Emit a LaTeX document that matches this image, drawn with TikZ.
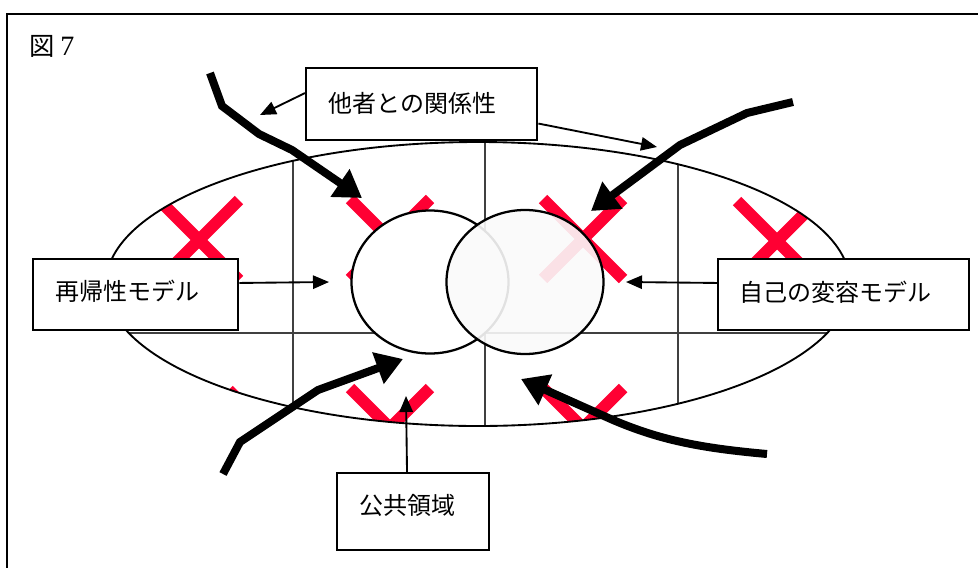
\documentclass[tikz,border=0pt]{standalone}
\usepackage{fontspec}
\newfontfamily\jp{Noto Sans CJK JP}
\newfontfamily\ser{Liberation Serif}
\usetikzlibrary{arrows.meta,calc}
\definecolor{xred}{RGB}{255,0,51}
\tikzset{
  box/.style={draw=black, line width=1.8pt, fill=white, anchor=north west,
    inner xsep=16pt, inner ysep=0pt, align=left, text height=13.6pt,
    font=\jp\fontsize{18}{20}\selectfont},
  thinarrow/.style={line width=1.4pt, -{Triangle[length=12pt,width=10pt]}},
  thickarrow/.style={line width=6pt, -{Triangle[length=20pt,width=24pt]}},
  xmark/.style={xred, line width=9pt},
  gridline/.style={black!75, line width=2pt},
}
\newcommand{\crossat}[2]{%
  \draw[xmark] (#1-40,#2-40) -- (#1+40,#2+40);
  \draw[xmark] (#1-40,#2+40) -- (#1+40,#2-40);}
\begin{document}
\begin{tikzpicture}[x=0.75pt,y=-0.75pt]
\useasboundingbox (0,0) rectangle (978,568);
% frame
\draw[line width=2.2pt] (978,14) -- (7,14) -- (7,568);
% title
\node[anchor=west, inner sep=0pt, font=\jp\fontsize{19}{21}\selectfont] (title) at (29,46) {図 {\ser\fontsize{21}{21}\selectfont 7}};
% grid and crosses clipped to ellipse
\begin{scope}
  \clip (478,284) ellipse [x radius=372, y radius=142];
  \crossat{199}{240}
  \crossat{390}{239}
  \crossat{583}{239}
  \crossat{777}{241}
  \crossat{197}{430}
  \crossat{390}{428}
  \crossat{583}{428}
  \crossat{777}{430}
  \draw[gridline] (293,100) -- (293,460);
  \draw[gridline] (485,100) -- (485,460);
  \draw[gridline] (678,100) -- (678,460);
  \draw[gridline] (90,333) -- (870,333);
\end{scope}
\draw[line width=1.4pt] (478,284) ellipse [x radius=372, y radius=142];
% circles
\draw[line width=1.7pt, fill=white] (430,282) ellipse [x radius=78.5, y radius=71.5];
\draw[line width=1.7pt, fill=black!2, fill opacity=0.9] (525,282) ellipse [x radius=78.5, y radius=72];
% boxes
\node[box, minimum width=173.25pt, minimum height=54pt, text width=140pt, text depth=0.8pt] (b1) at (305,67) {他者との関係性};
\node[box, minimum width=153.75pt, minimum height=53.25pt, text width=121pt, text depth=5pt] (b2) at (32,258) {再帰性モデル};
\node[box, minimum width=188.25pt, minimum height=53.25pt, text width=156pt, text depth=4pt] (b3) at (717,258) {自己の変容モデル};
\node[box, minimum width=114pt, minimum height=57.75pt, text width=81pt, text depth=9pt] (b4) at (336,472) {公共領域};
% thin arrow targets
\coordinate (t1) at (260,115);
\coordinate (t2) at (657,147);
\coordinate (t3) at (329,282);
\coordinate (t4) at (626,282);
\coordinate (t5) at (406,396);
\draw[thinarrow] ($(b1.north west)!0.35!(b1.south west)$) -- (t1);
\draw[thinarrow] ($(b1.north east)!0.76!(b1.south east)$) -- (t2);
\draw[thinarrow] ($(b2.north east)!0.34!(b2.south east)$) -- (t3);
\draw[thinarrow] ($(b3.north west)!0.34!(b3.south west)$) -- (t4);
\draw[thinarrow] ($(b4.north west)!0.46!(b4.north east)$) -- (t5);
% thick arrows
\coordinate (s1) at (210,73);
\coordinate (e1) at (362,198);
\coordinate (s2) at (793,102);
\coordinate (e2) at (591,211);
\coordinate (s3) at (223,474);
\coordinate (e3) at (403,359);
\coordinate (s4) at (767,454);
\coordinate (e4) at (521,379);
\draw[thickarrow] (s1) -- (222,106) -- (259,134) -- (292,150) -- (e1);
\draw[thickarrow] (s2) -- (747,113) -- (680,145) -- (e2);
\draw[thickarrow] (s3) -- (240,442) -- (318,390) -- (e3);
\draw[thickarrow] (s4) .. controls (700,448) and (660,440) .. (613,420) -- (e4);
\end{tikzpicture}
\end{document}
